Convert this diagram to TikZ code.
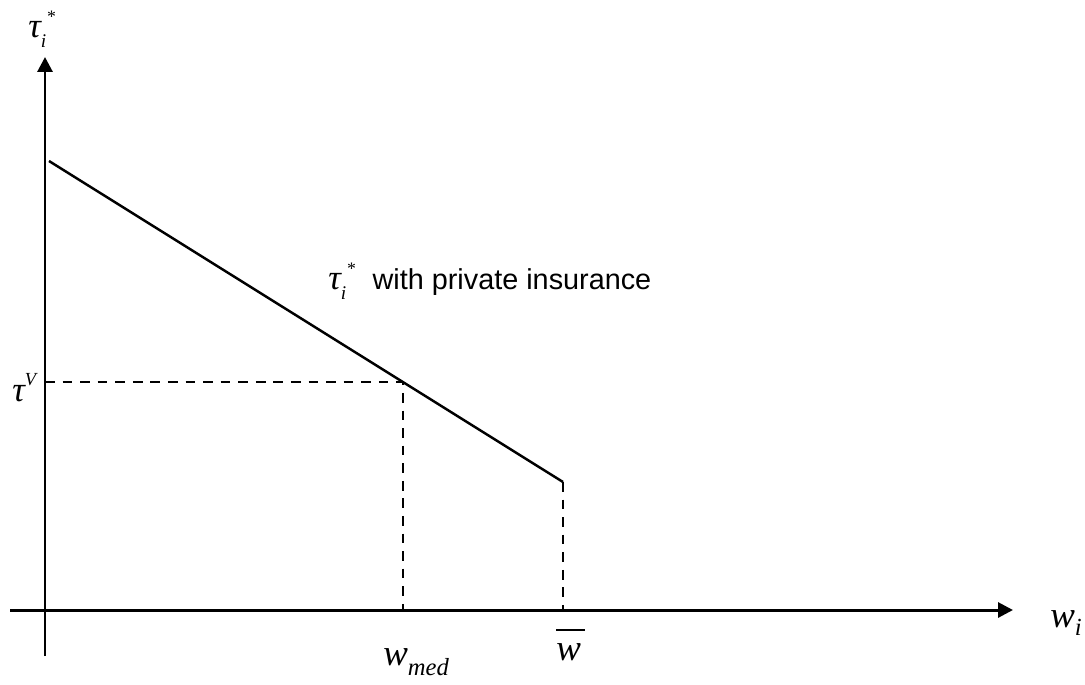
\documentclass[tikz,border=0pt]{standalone}
\usepackage{fontspec}
\usepackage{tikz}
\usetikzlibrary{arrows.meta,calc}
\newfontfamily\tms{Liberation Serif}
\newfontfamily\arial{Liberation Sans}
% italic symbol with sub- and superscript
\newcommand{\taustar}{τ\raisebox{-6pt}{\fontsize{11}{12}\selectfont i}\raisebox{8pt}{\fontsize{10}{11}\selectfont *}}

\begin{document}
\begin{tikzpicture}[x=0.02cm, y=-0.02cm,
    axis/.style={line width=1.7pt, -{Triangle[length=8.5pt, width=8.5pt]}},
    curve/.style={line width=1.4pt},
    guide/.style={line width=1.2pt, dash pattern=on 5.5pt off 4.5pt},
    sym/.style={inner sep=0pt, font=\tms\itshape\fontsize{20}{24}\selectfont},
    big/.style={inner sep=0pt, font=\tms\itshape\fontsize{21}{24}\selectfont}]
    \useasboundingbox (0,0) rectangle (1085,684);

    % Axes
    \coordinate (yb) at (45,656);
    \coordinate (yt) at (45,57);
    \coordinate (xl) at (10,610);
    \coordinate (xr) at (1013,610);
    \draw[axis] (yb) -- (yt);
    \draw[axis] (xl) -- (xr);
    \node[sym, anchor=base west] (ylab) at (28,37) {\taustar};
    \node[big, anchor=base west] (xlab) at (1050,627) {w\raisebox{-5pt}{\fontsize{14}{16}\selectfont i}};

    % Demand line
    \coordinate (A) at (49,161);
    \coordinate (B) at (563,482);
    \draw[curve] (A) -- (B);
    \node[sym, anchor=base west] (lab) at (328,289)
        {\taustar\hspace{10pt}{\arial\upshape\fontsize{16.4}{20}\selectfont with private insurance}};

    % Median voter
    \coordinate (M) at ($(A)!0.689!(B)$);
    \coordinate (Mx) at (M |- xl);
    \coordinate (My) at (yt |- M);
    \draw[guide] (My) -- (M) -- (Mx);
    \node[sym, anchor=base west] (tv) at (12,401) {τ\raisebox{9pt}{\fontsize{10.5}{11}\selectfont V}};
    \node[big, anchor=base west] (wmed) at (383,665) {w\raisebox{-6pt}{\fontsize{14}{16}\selectfont med}};

    % Upper bound
    \coordinate (Bx) at (B |- xl);
    \draw[guide] (B) -- (Bx);
    \node[big, anchor=base west] (wbar) at (556,660)
        {\makebox[0pt][l]{\raisebox{16.5pt}{\rule{16.5pt}{1pt}}}w};
\end{tikzpicture}
\end{document}
